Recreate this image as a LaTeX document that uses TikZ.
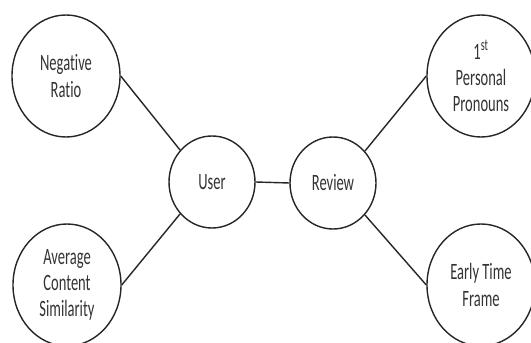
\documentclass[tikz,border=0pt]{standalone}
\usepackage{fontspec}
\setmainfont[FakeStretch=0.62, Ligatures={NoCommon}]{Carlito}
\usepackage{tikz}
\usetikzlibrary{shapes.geometric}

\tikzset{
  bigfeat/.style={ellipse, draw=black!85, line width=1.2pt, inner sep=0pt,
    minimum width=3.24cm, minimum height=3.66cm, align=center,
    text=black!80, font=\fontsize{20}{22.5}\selectfont},
  smallfeat/.style={bigfeat, minimum width=2.58cm, minimum height=2.76cm}
}

\begin{document}
\begin{tikzpicture}[x=0.03cm,y=-0.03cm]
\useasboundingbox (0,0) rectangle (531,343);

\node[bigfeat] (neg) at (66,76) {Negative\\Ratio};
\node[bigfeat] (avg) at (67,285) {Average\\Content\\Similarity};
\node[smallfeat] (user) at (212,182) {User};
\node[smallfeat] (review) at (333,183) {Review};
\node[bigfeat] (pron) at (481,76) {1\textsuperscript{st}\\Personal\\Pronouns};
\node[bigfeat] (early) at (481,285) {Early Time\\Frame};

\foreach \a/\b in {neg.east/user.135, avg.east/user.-135, user.east/review.west,
                   review.45/pron.west, review.-45/early.west}
  \draw[black!85, line width=1.2pt] (\a) -- (\b);
\end{tikzpicture}
\end{document}
